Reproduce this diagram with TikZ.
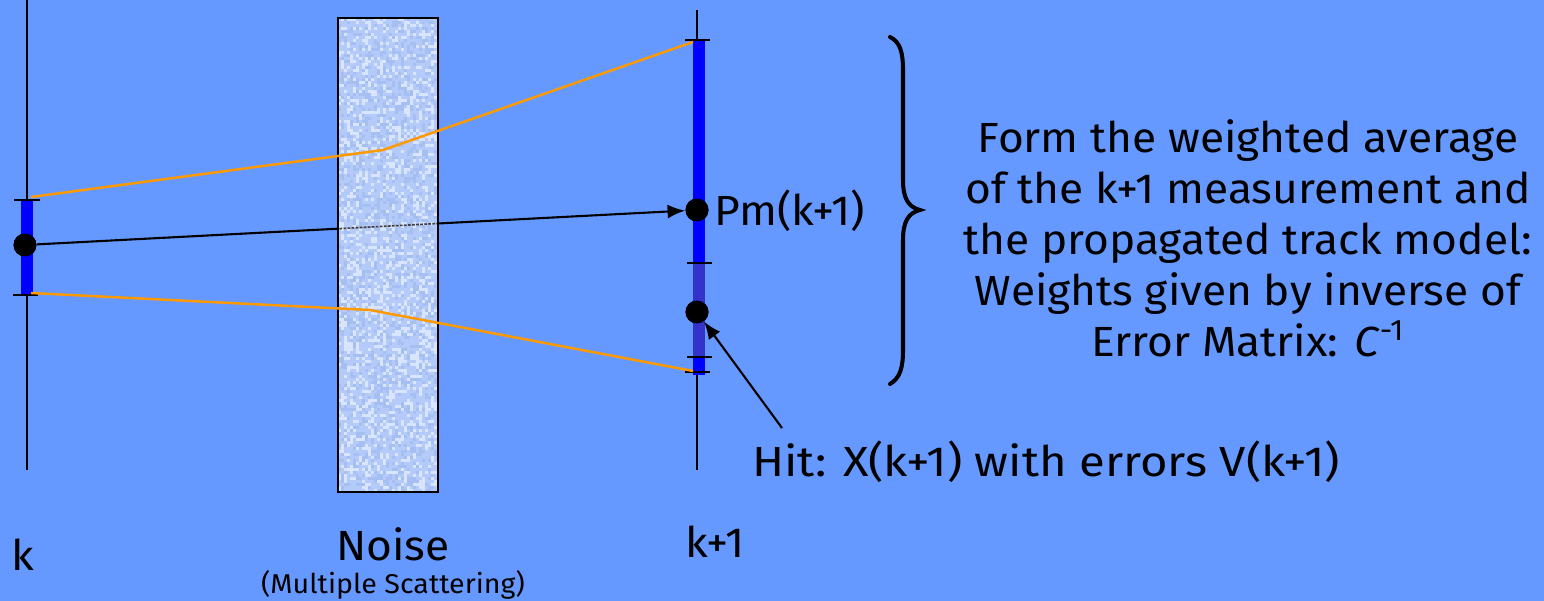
\documentclass[tikz,border=0pt]{standalone}
\usepackage{fontspec}
\setmainfont{Fira Sans}
\newfontfamily\wide[FakeStretch=1.05]{Fira Sans}
\newfontfamily\wider[FakeStretch=1.12]{Fira Sans}
\usetikzlibrary{arrows.meta}
\definecolor{bg}{HTML}{6699FF}
\definecolor{barblue}{HTML}{0000FF}
\definecolor{hitblue}{HTML}{3333CC}
\definecolor{trk}{HTML}{FF9900}
\definecolor{nz1}{HTML}{C2D4F8}
\definecolor{nz2}{HTML}{E0EAFD}
\definecolor{nz3}{HTML}{A4BEF2}
\tikzset{
  det/.style={line width=1.2pt, black},
  bar/.style={line width=7pt, barblue},
  tick/.style={line width=1.6pt, black},
  dot/.style={circle, fill=black, inner sep=0pt, minimum size=0.46cm},
  track/.style={line width=1.4pt, trk},
  arr/.style={line width=1.2pt, -{Latex[length=10pt,width=8pt]}},
  lbl/.style={font=\wide\fontsize{24}{28}\selectfont, inner sep=0pt},
  big/.style={font=\wide\fontsize{24}{29}\selectfont, inner sep=0pt, align=center},
}
\begin{document}
\begin{tikzpicture}[x=0.02cm, y=-0.02cm]
\fill[bg] (0,0) rectangle (1544,601);
\useasboundingbox (0,0) rectangle (1544,601);
% detector planes
\draw[det] (27,0) -- (27,470);
\draw[det] (697,10) -- (697,470);
% dots and propagated track
\node[dot] (dk) at (25,245) {};
\node[dot] (dp) at (697,210) {};
\node[dot] (dh) at (697,312) {};
\draw[arr] (dk) -- (dp);
% noise slab
\coordinate (s1) at (338,18);
\coordinate (s2) at (438,492);
\begin{scope}[opacity=0.85]
\fill[nz1] (s1) rectangle (s2);
\pgfmathsetseed{7}
\foreach \i in {0,...,32}{
  \foreach \j in {0,...,157}{
    \pgfmathrandominteger{\r}{1}{4}
    \ifnum\r=1 \fill[nz2] (338+\i*3,18+\j*3) rectangle ++(3,3);\fi
    \ifnum\r=2 \fill[nz3] (338+\i*3,18+\j*3) rectangle ++(3,3);\fi
  }
}
\end{scope}
\begin{scope}
\clip (s1) rectangle (s2);
\draw[black!75, line width=0.9pt, dash pattern=on 1.5pt off 0.8pt] (dk) -- (dp);
\end{scope}
\draw[line width=1.6pt] (s1) rectangle (s2);
% error bars
\draw[bar] (27,200) -- (27,295);
\draw[bar] (699,40) -- (699,263);
\draw[line width=7pt, hitblue] (699,263) -- (699,357);
\draw[bar] (699,357) -- (699,375);
\draw[tick] (14,200) -- (40,200);
\draw[tick] (13,295) -- (38,295);
\draw[tick] (685,40) -- (710,40);
\draw[tick] (687,263) -- (712,263);
\draw[tick] (687,357) -- (712,357);
\draw[tick] (685,372) -- (710,372);
% tracks
\draw[track] (31,197) -- (383,150) -- (693,42);
\draw[track] (31,293) -- (370,310) -- (693,371);
% redraw dots on top
\fill (dk) circle (0.23cm);
\fill (dp) circle (0.23cm);
\fill (dh) circle (0.23cm);
\coordinate (hs) at (782,428);
\draw[arr] (hs) -- (dh);
% labels
\node[lbl, anchor=west] (pm) at (714,211) {Pm(k+1)};
\node[lbl, anchor=west, font=\wider\fontsize{24}{28}\selectfont] (hit) at (752,462) {Hit: X(k+1) with errors V(k+1)};
\node[lbl, anchor=west] (lk) at (11,555) {k};
\node[lbl, anchor=west] (lk1) at (685,542) {k+1};
\node[lbl] (noise) at (393,544) {Noise};
\node[font=\wide\fontsize{15.5}{18}\selectfont, inner sep=0pt] (ms) at (393,585) {(Multiple Scattering)};
% brace
\draw[line width=2.3pt, line cap=round] (890,37) .. controls (900,42) and (903,52) .. (903,70)
  -- (903,180) .. controls (903,198) and (908,207) .. (920,210)
  .. controls (908,213) and (903,222) .. (903,240)
  -- (903,350) .. controls (903,368) and (900,378) .. (890,384);
\node[big] (txt) at (1248,238) {Form the weighted average\\of the k+1 measurement and\\the propagated track model:\\Weights given by inverse of\\Error Matrix: \textit{C}\textsuperscript{-1}};
\end{tikzpicture}
\end{document}
